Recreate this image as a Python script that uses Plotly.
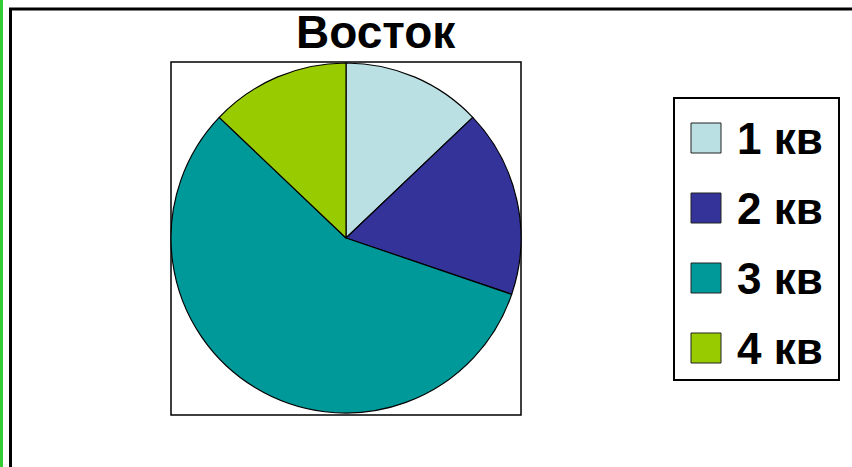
import plotly.graph_objects as go

W, H = 852, 467

categories = ["1 кв", "2 кв", "3 кв", "4 кв"]
values = [20.4, 27.4, 90, 20.4]
colors = ["#BBE0E3", "#333399", "#009999", "#99CC00"]
title_text = "Восток"

FONT = "Arial, Liberation Sans, sans-serif"

def px(x):
    return x / W

def py(y):
    return 1 - y / H

fig = go.Figure()
fig.add_trace(go.Pie(
    labels=categories,
    values=values,
    sort=False,
    direction="clockwise",
    rotation=0,
    marker=dict(colors=colors, line=dict(color="black", width=1.2)),
    textinfo="none",
    domain=dict(x=[px(171), px(521)], y=[py(413), py(63)]),
    showlegend=False,
))

shapes = [
    # left green edge
    dict(type="rect", xref="paper", yref="paper", x0=0, x1=px(3), y0=-0.05, y1=1.05,
         fillcolor="#33CC33", line=dict(width=0)),
    # outer black frame
    dict(type="rect", xref="paper", yref="paper", x0=px(10.5), x1=1.05, y0=-0.05, y1=py(9),
         line=dict(color="black", width=3)),
    # plot box
    dict(type="rect", xref="paper", yref="paper", x0=px(171), x1=px(521), y0=py(415), y1=py(62),
         line=dict(color="black", width=1.5), layer="below"),
    # legend box
    dict(type="rect", xref="paper", yref="paper", x0=px(674), x1=px(839), y0=py(380), y1=py(98),
         line=dict(color="black", width=2)),
]

annotations = [
    dict(text="<b>" + title_text + "</b>", xref="paper", yref="paper", x=px(376), y=py(32),
         xanchor="center", yanchor="middle", showarrow=False,
         font=dict(family=FONT, size=46, color="black")),
]

centers = [138, 208, 278, 348]
for cat, col, cy in zip(categories, colors, centers):
    shapes.append(dict(type="rect", xref="paper", yref="paper",
                       x0=px(691), x1=px(721), y0=py(cy + 15), y1=py(cy - 15),
                       fillcolor=col, line=dict(color="#222222", width=1)))
    annotations.append(dict(text="<b>" + cat + "</b>", xref="paper", yref="paper",
                            x=px(735), y=py(cy), xanchor="left", yanchor="middle",
                            showarrow=False,
                            font=dict(family=FONT, size=44, color="black")))

fig.update_layout(
    width=W, height=H,
    margin=dict(l=0, r=0, t=0, b=0),
    paper_bgcolor="white",
    plot_bgcolor="white",
    shapes=shapes,
    annotations=annotations,
)

fig.write_html("out.html", config={"displayModeBar": False},
               post_script="document.body.style.margin='0';document.body.style.overflow='hidden';")
